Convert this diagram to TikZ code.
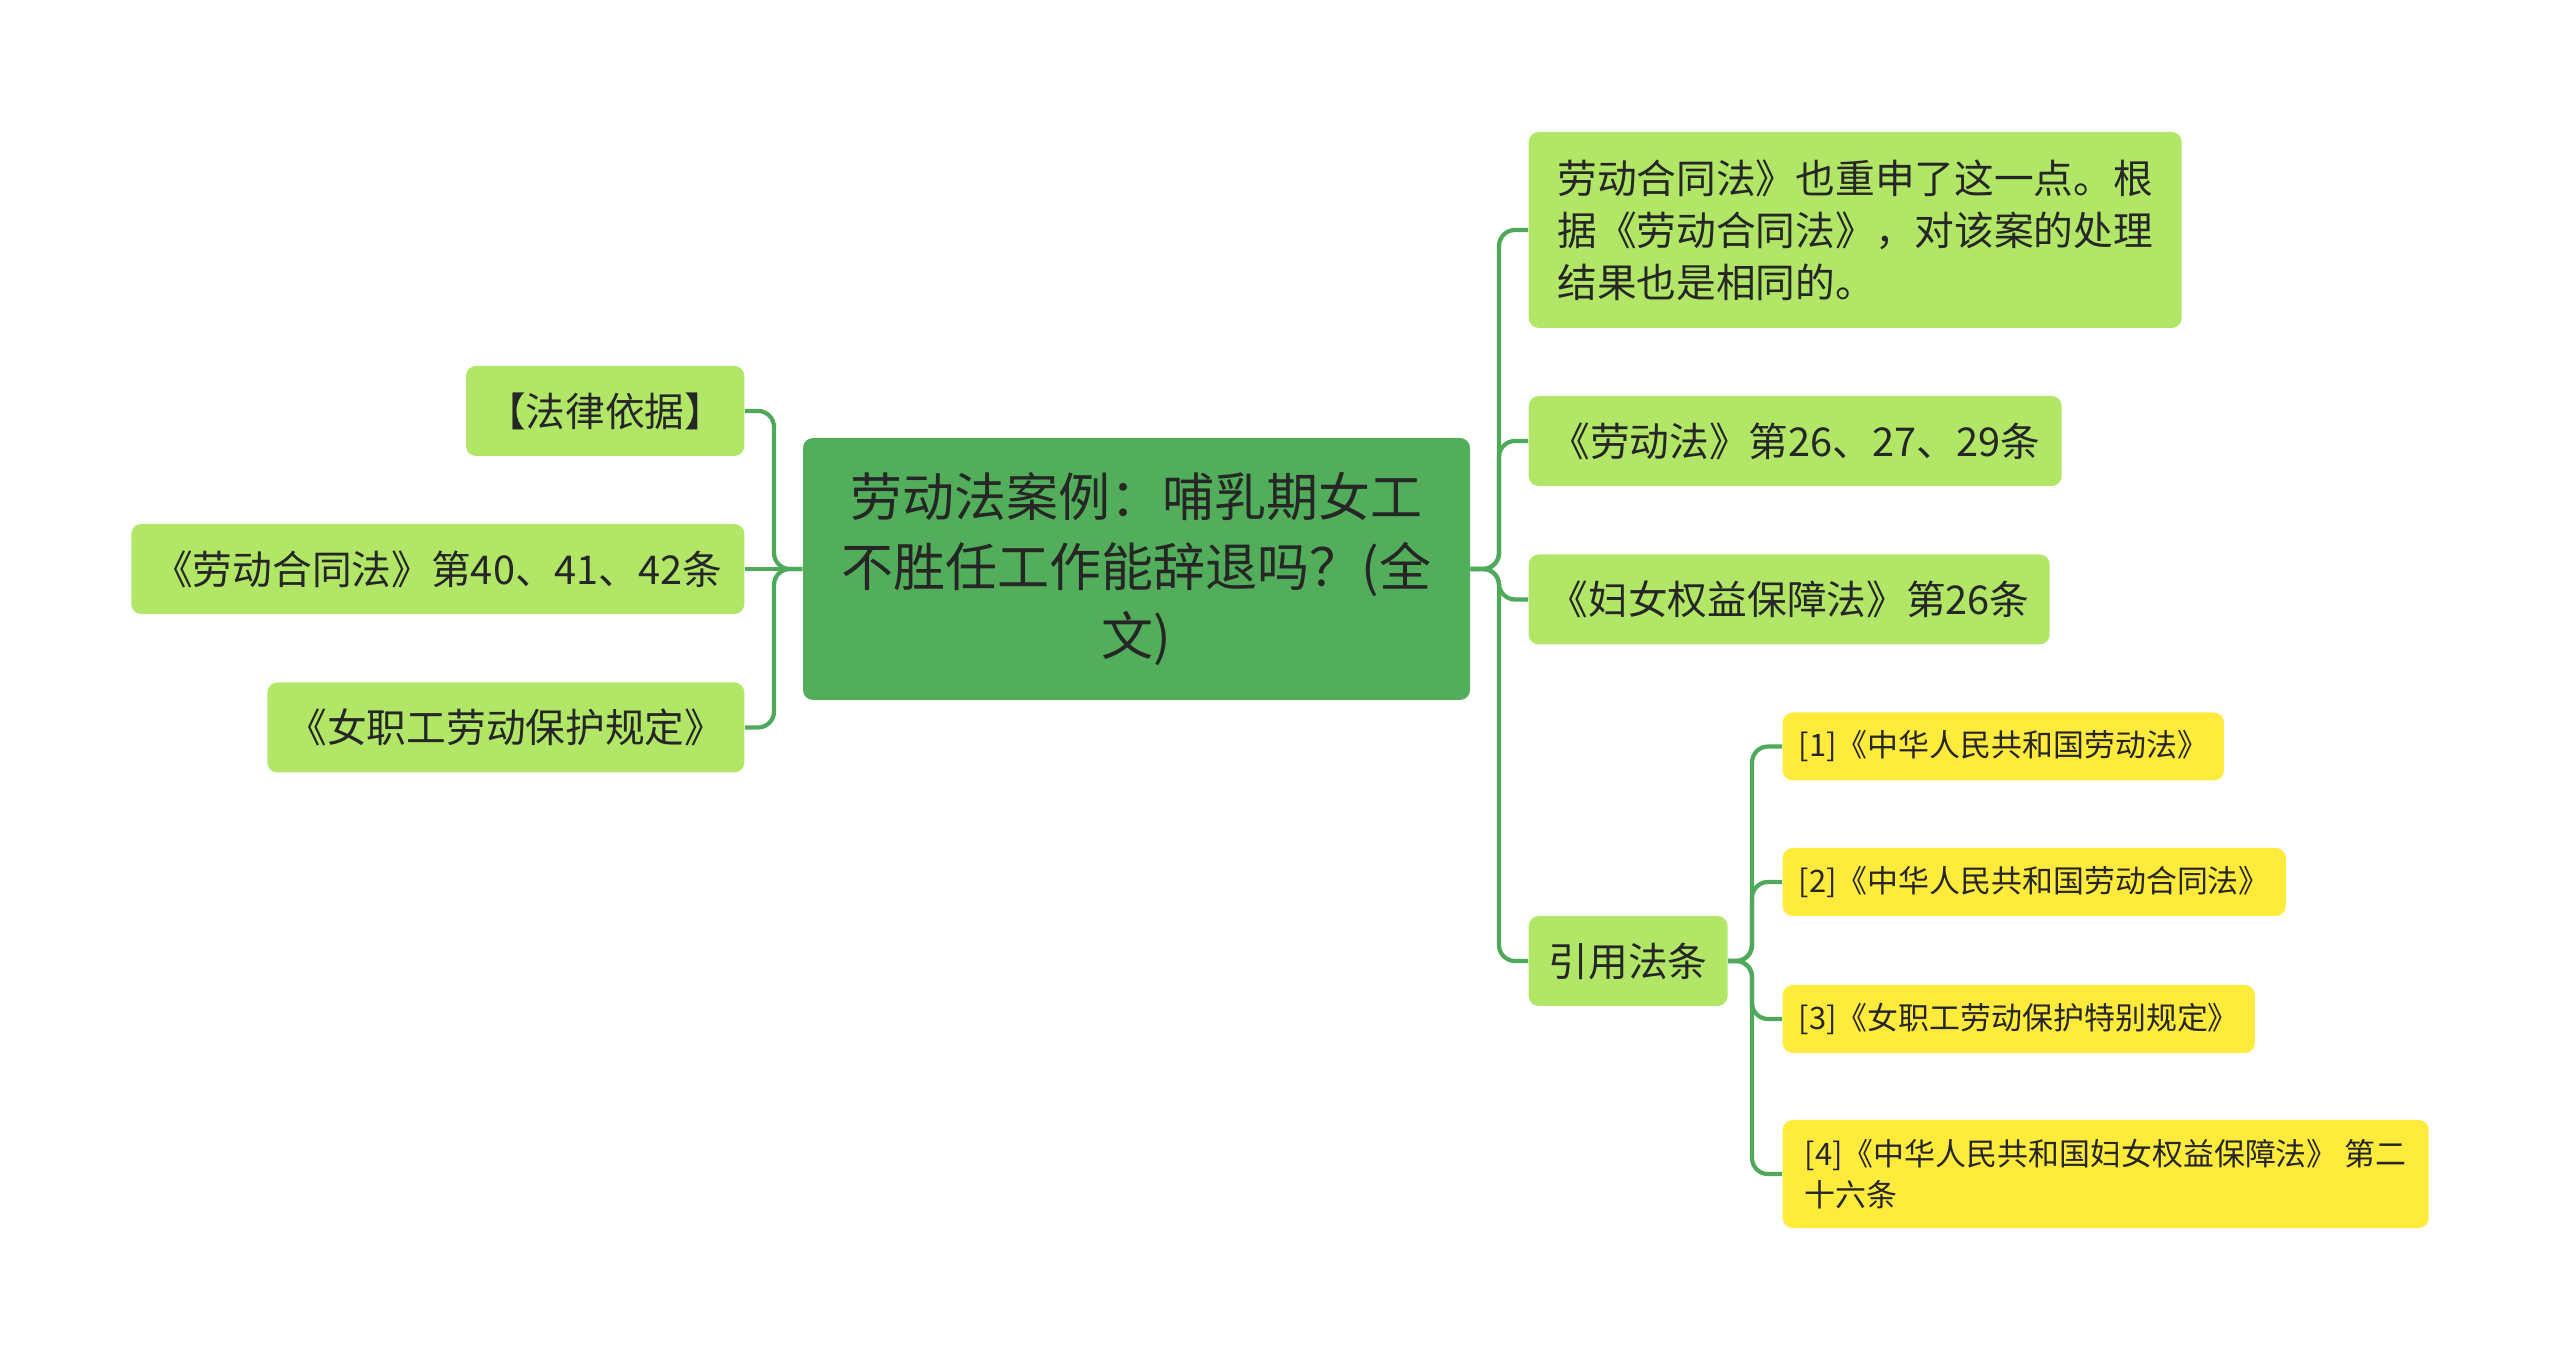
\documentclass[tikz,border=0pt]{standalone}
\usepackage{fontspec}
\setmainfont{Noto Sans CJK SC}
\usepackage{xcolor}
\usepackage{tikz}
\usetikzlibrary{positioning,calc}
\definecolor{ink}{RGB}{38,38,38}
\definecolor{trunk}{RGB}{78,170,90}
\definecolor{rootgreen}{RGB}{82,174,90}
\definecolor{leafgreen}{RGB}{178,230,102}
\definecolor{leafyellow}{RGB}{255,235,59}
\tikzset{
  link/.style={line width=1.2pt,trunk,rounded corners=0.16cm},
  topicbox/.style={fill=rootgreen,rounded corners=0.1cm,text=ink,align=center,
    minimum width=6.67cm,minimum height=2.62cm,
    font=\fontsize{14.8}{19.9}\selectfont},
  leaf/.style={fill=leafgreen,rounded corners=0.1cm,text=ink,
    minimum height=0.9cm,inner xsep=0.2cm,
    font=\fontsize{11.3}{14.8}\selectfont},
  refbox/.style={fill=leafyellow,rounded corners=0.1cm,text=ink,
    minimum height=0.68cm,inner xsep=0.16cm,
    font=\fontsize{8.8}{11.6}\selectfont}
}
\begin{document}
\begin{tikzpicture}
  \useasboundingbox (0,0) rectangle (25.6,13.62);
  \node[topicbox] (topic) at (11.365,7.93) {劳动法案例：哺乳期女工\\不胜任工作能辞退吗？(全\\文)};
  \node[leaf,anchor=east,minimum width=2.75cm] (basis) at (7.45,9.51) {【法律依据】};
  \node[leaf,anchor=east,minimum width=6.13cm] (contract) at (7.45,7.93) {《劳动合同法》第40、41、42条};
  \node[leaf,anchor=east,minimum width=4.74cm] (protect) at (7.45,6.345) {《女职工劳动保护规定》};
  \node[leaf,anchor=west,minimum width=6.53cm,minimum height=1.96cm,align=left] (note) at (15.28,11.32)
    {劳动合同法》也重申了这一点。根\\据《劳动合同法》，对该案的处理\\结果也是相同的。};
  \node[leaf,anchor=west,minimum width=5.33cm] (lawart) at (15.28,9.21) {《劳动法》第26、27、29条};
  \node[leaf,anchor=west,minimum width=5.2cm] (women) at (15.28,7.625) {《妇女权益保障法》第26条};
  \node[leaf,anchor=west,minimum width=1.96cm] (cite) at (15.28,4.01) {引用法条};
  \node[refbox,anchor=west,minimum width=4.39cm,align=left] (ref1) at (17.82,6.155) {[1]《中华人民共和国劳动法》};
  \node[refbox,anchor=west,minimum width=4.99cm,align=left] (ref2) at (17.82,4.8) {[2]《中华人民共和国劳动合同法》};
  \node[refbox,anchor=west,minimum width=4.68cm,align=left] (ref3) at (17.82,3.43) {[3]《女职工劳动保护特别规定》};
  \node[refbox,anchor=west,minimum width=6.46cm,minimum height=1.08cm,align=left] (ref4) at (17.82,1.88)
    {[4]《中华人民共和国妇女权益保障法》 第二\\十六条};
  \coordinate (lj) at (7.74,7.93);
  \coordinate (rj) at (14.99,7.93);
  \coordinate (cj) at (17.52,4.01);
  \draw[link] (topic.west) -- (lj) |- (basis.east);
  \draw[link] (topic.west) -- (contract.east);
  \draw[link] (topic.west) -- (lj) |- (protect.east);
  \foreach \n in {note,lawart,women,cite}
    \draw[link] (topic.east) -- (rj) |- (\n.west);
  \foreach \n in {ref1,ref2,ref3,ref4}
    \draw[link] (cite.east) -- (cj) |- (\n.west);
\end{tikzpicture}
\end{document}
